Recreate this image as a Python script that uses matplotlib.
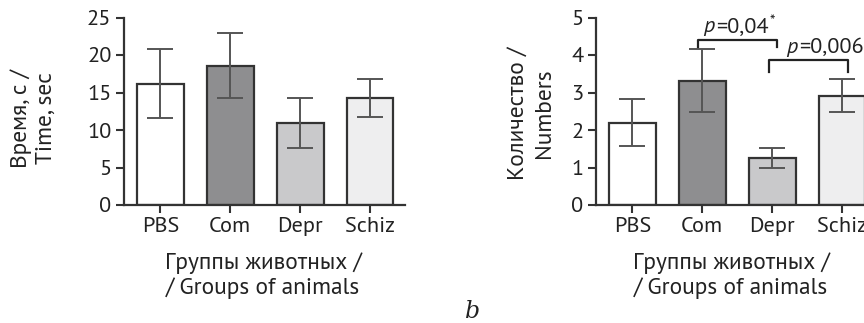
import matplotlib
matplotlib.use("Agg")
import matplotlib.pyplot as plt
import numpy as np

FONT = ['PT Sans', 'Open Sans', 'DejaVu Sans']
plt.rcParams['font.family'] = FONT

groups = ["PBS", "Com", "Depr", "Schiz"]
time_mean = [16.15, 18.6, 10.9, 14.3]
time_err = [4.6, 4.35, 3.35, 2.55]
num_mean = [2.2, 3.32, 1.26, 2.92]
num_err = [0.63, 0.84, 0.26, 0.44]
bar_colors = ["#ffffff", "#8e8e90", "#c9c9cb", "#eeeeef"]
p_values = ["0,04", "0,006"]
p_stars = ["*", "**"]

W, H = 864, 323
fig = plt.figure(figsize=(W / 100, H / 100), dpi=100)

def fx(px):
    return px / W

def fy(py):
    return 1 - py / H

ax_bottom = 205
ax_top = 17.5
ax1 = fig.add_axes([fx(124), fy(ax_bottom), fx(405 - 124), (ax_bottom - ax_top) / H])
ax2 = fig.add_axes([fx(596), fy(ax_bottom), fx(281), (ax_bottom - ax_top) / H])

edge = "#333333"
errc = "#555555"
tcol = "#222222"
x = np.arange(len(groups))

for ax, means, errs, ylim, yticks in [
    (ax1, time_mean, time_err, (0, 25), [0, 5, 10, 15, 20, 25]),
    (ax2, num_mean, num_err, (0, 5), [0, 1, 2, 3, 4, 5]),
]:
    ax.bar(x, means, width=0.67, color=bar_colors, edgecolor=edge, linewidth=1.6, zorder=2)
    ax.errorbar(x, means, yerr=errs, fmt="none", ecolor=errc, elinewidth=1.4,
                capsize=9.5, capthick=1.4, zorder=3)
    ax.set_xlim(-0.52, 3.5)
    ax.set_ylim(*ylim)
    ax.set_yticks(yticks)
    ax.set_xticks(x)
    ax.set_xticklabels(groups)
    for s in ["top", "right"]:
        ax.spines[s].set_visible(False)
    for s in ["left", "bottom"]:
        ax.spines[s].set_linewidth(1.6)
        ax.spines[s].set_color(edge)
    ax.tick_params(axis="both", length=6, width=1.5, color=edge, labelsize=16,
                   labelcolor=tcol, pad=3)

# axis labels placed as figure text (pixel positions)
lab = dict(fontsize=16.8, color=tcol, ha="center")
for cx in (263, 731):
    fig.text(fx(cx), fy(269), "Группы животных /", va="baseline", **lab)
    fig.text(fx(cx), fy(294), "/ Groups of animals", va="baseline", **lab)

fig.text(fx(21), fy(119), "Время, с /", va="center", rotation=90, **lab)
fig.text(fx(46), fy(118), "Time, sec", va="center", rotation=90, **lab)
fig.text(fx(518), fy(113), "Количество /", va="center", rotation=90, **lab)
fig.text(fx(545), fy(113), "Numbers", va="center", rotation=90, **lab)

# significance brackets
def bracket(ax, x0, x1, y, h, tx, ty, val, stars):
    ax.plot([x0, x0, x1, x1], [y - h, y, y, y - h], color=tcol, lw=1.6,
            clip_on=False, zorder=4)
    t1 = ax.text(tx, ty, "p", fontsize=16, style="italic", color=tcol,
                 ha="left", va="baseline", clip_on=False)
    t2 = ax.annotate("=" + val, xy=(1, ty), xycoords=(t1, "data"),
                     xytext=(1.2, 0), textcoords="offset points",
                     fontsize=16, color=tcol, ha="left", va="baseline",
                     annotation_clip=False)
    ax.annotate(stars, xy=(1, ty), xycoords=(t2, "data"),
                xytext=(0.3, 4), textcoords="offset points",
                fontsize=11, color=tcol, ha="left", va="baseline",
                annotation_clip=False)

bracket(ax2, 0.945, 2.07, 4.40, 0.18, 1.01, 4.62, p_values[0], p_stars[0])
bracket(ax2, 1.95, 3.08, 3.87, 0.32, 2.2, 4.06, p_values[1], p_stars[1])

fig.text(fx(473), fy(318), "b", fontsize=17, family="DejaVu Serif", style="italic",
         ha="center", va="baseline", color=tcol)

fig.savefig("out.png", dpi=100)
